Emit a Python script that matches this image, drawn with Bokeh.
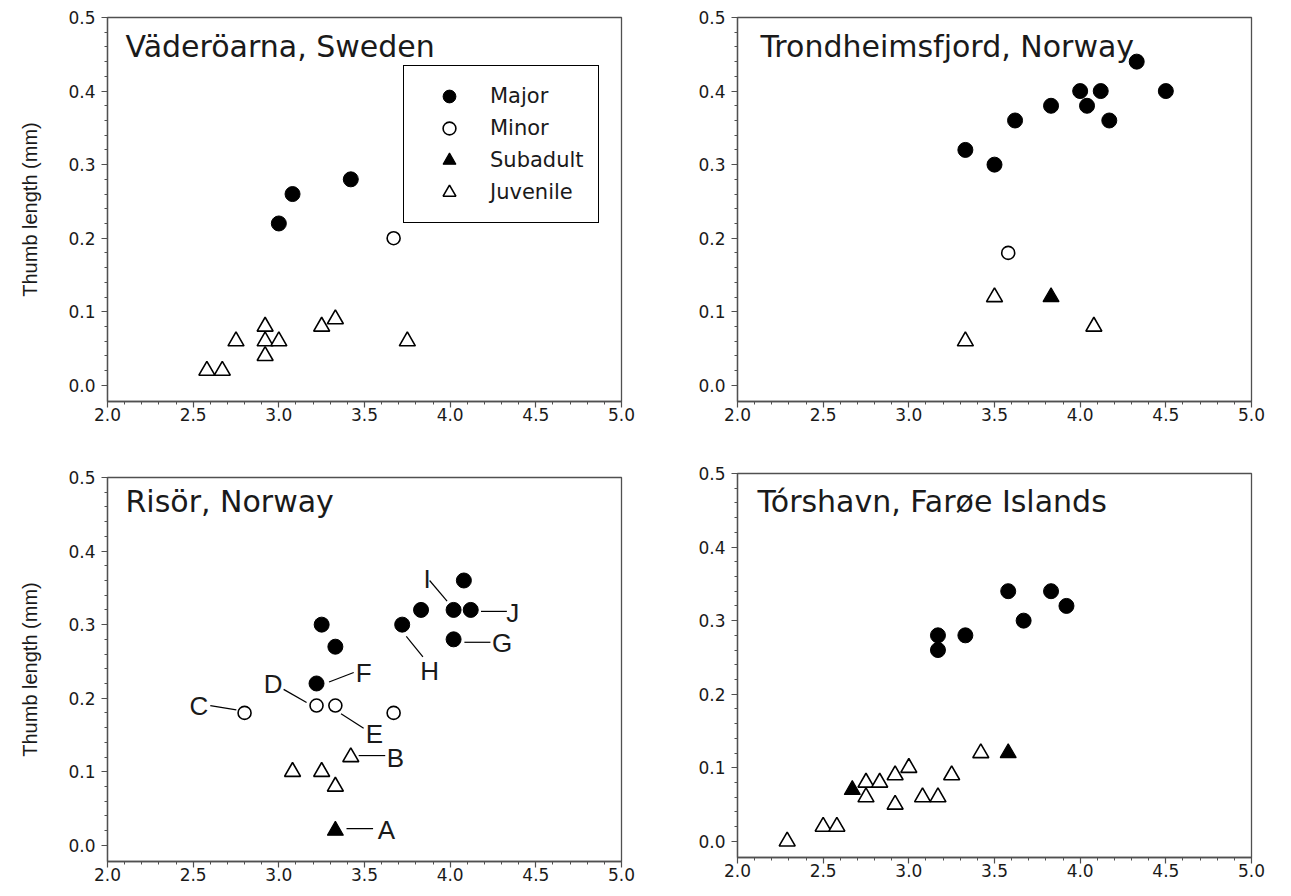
from bokeh.plotting import figure
from bokeh.layouts import row, column
from bokeh.models import FixedTicker, PrintfTickFormatter, Range1d, Legend, LegendItem, Label
from bokeh.core.properties import value
from bokeh.embed import file_html
from bokeh.resources import INLINE

# ---------------- data (x = age in years, y = thumb length in mm) ----------------
# Väderöarna, Sweden
vad_major_x = [3.00, 3.08, 3.42]
vad_major_y = [0.22, 0.26, 0.28]
vad_minor_x = [3.67]
vad_minor_y = [0.20]
vad_sub_x = []
vad_sub_y = []
vad_juv_x = [2.58, 2.67, 2.75, 2.92, 2.92, 2.92, 3.00, 3.25, 3.33, 3.75]
vad_juv_y = [0.02, 0.02, 0.06, 0.08, 0.06, 0.04, 0.06, 0.08, 0.09, 0.06]

# Trondheimsfjord, Norway
tro_major_x = [3.33, 3.50, 3.62, 3.83, 4.00, 4.04, 4.12, 4.17, 4.33, 4.50]
tro_major_y = [0.32, 0.30, 0.36, 0.38, 0.40, 0.38, 0.40, 0.36, 0.44, 0.40]
tro_minor_x = [3.58]
tro_minor_y = [0.18]
tro_sub_x = [3.83]
tro_sub_y = [0.12]
tro_juv_x = [3.33, 3.50, 4.08]
tro_juv_y = [0.06, 0.12, 0.08]

# Risör, Norway
ris_major_x = [3.25, 3.33, 3.22, 3.72, 3.83, 4.02, 4.08, 4.12, 4.02]
ris_major_y = [0.30, 0.27, 0.22, 0.30, 0.32, 0.32, 0.36, 0.32, 0.28]
ris_minor_x = [2.80, 3.22, 3.33, 3.67]
ris_minor_y = [0.18, 0.19, 0.19, 0.18]
ris_sub_x = [3.33]
ris_sub_y = [0.02]
ris_juv_x = [3.08, 3.25, 3.33, 3.42]
ris_juv_y = [0.10, 0.10, 0.08, 0.12]

# Risör individual labels (text positions and leader lines)
ris_letters = ["A", "B", "C", "D", "E", "F", "G", "H", "I", "J"]
ris_letter_x = [3.628, 3.680, 2.533, 2.967, 3.558, 3.495, 4.303, 3.880, 3.865, 4.365]
ris_letter_y = [0.021, 0.119, 0.190, 0.219, 0.152, 0.234, 0.275, 0.237, 0.362, 0.316]
ris_lead_x0 = [3.395, 3.466, 2.600, 3.028, 3.363, 3.293, 4.083, 3.744, 3.880, 4.180]
ris_lead_y0 = [0.0227, 0.122, 0.190, 0.212, 0.179, 0.222, 0.276, 0.284, 0.360, 0.318]
ris_lead_x1 = [3.550, 3.621, 2.752, 3.162, 3.495, 3.437, 4.235, 3.841, 3.982, 4.331]
ris_lead_y1 = [0.0227, 0.122, 0.184, 0.194, 0.159, 0.235, 0.276, 0.256, 0.332, 0.318]

# Tórshavn, Farøe Islands
tor_major_x = [3.58, 3.83, 3.92, 3.67, 3.33, 3.17, 3.17]
tor_major_y = [0.34, 0.34, 0.32, 0.30, 0.28, 0.28, 0.26]
tor_minor_x = []
tor_minor_y = []
tor_sub_x = [2.67, 3.58]
tor_sub_y = [0.07, 0.12]
tor_juv_x = [2.29, 2.50, 2.58, 2.75, 2.75, 2.83, 2.92, 2.92, 3.00, 3.08, 3.17, 3.25, 3.42]
tor_juv_y = [0.00, 0.02, 0.02, 0.08, 0.06, 0.08, 0.09, 0.05, 0.10, 0.06, 0.06, 0.09, 0.12]

categories = ["Major", "Minor", "Subadult", "Juvenile"]
titles = ["Väderöarna, Sweden", "Trondheimsfjord, Norway", "Risör, Norway", "Tórshavn, Farøe Islands"]
title_x = [2.105, 2.134, 2.105, 2.117]
title_y = [0.460, 0.460, 0.4675, 0.4626]
y_label = "Thumb length (mm)"
x_major_ticks = [2.0, 2.5, 3.0, 3.5, 4.0, 4.5, 5.0]
y_major_ticks = [0.0, 0.1, 0.2, 0.3, 0.4, 0.5]

# ---------------- styling ----------------
AX = "#505050"
TXT = "#1a1a1a"
FONT = "DejaVu Sans"

STYLES = [
    dict(marker="circle", size=15, fill_color="black", line_color="black", line_width=1),
    dict(marker="circle", size=13, fill_color="white", line_color="black", line_width=1.6),
    dict(marker="triangle", size=16, fill_color="black", line_color="black", line_width=1.2),
    dict(marker="triangle", size=16, fill_color="white", line_color="black", line_width=1.6),
]


def make_panel(idx, data, ml, mr, mt, mb, with_ylabel):
    fw, fh = 514, 384
    p = figure(width=ml + fw + mr, height=mt + fh + mb,
               x_range=Range1d(2.0, 5.0), y_range=Range1d(-0.022, 0.5),
               output_backend="svg", toolbar_location=None,
               min_border_left=ml, min_border_right=mr,
               min_border_top=mt, min_border_bottom=mb)
    p.xgrid.visible = False
    p.ygrid.visible = False
    p.background_fill_color = "white"
    p.border_fill_color = "white"
    p.outline_line_color = AX
    p.outline_line_width = 1.3
    p.outline_line_alpha = 1.0

    x_minor = [round(2.0 + 0.1 * i, 2) for i in range(31)]
    y_minor = [round(0.02 * i, 2) for i in range(26)]
    p.xaxis.ticker = FixedTicker(ticks=x_major_ticks, minor_ticks=x_minor)
    p.yaxis.ticker = FixedTicker(ticks=y_major_ticks, minor_ticks=y_minor)
    for ax in (p.xaxis[0], p.yaxis[0]):
        ax.formatter = PrintfTickFormatter(format="%.1f")
        ax.axis_line_color = AX
        ax.axis_line_width = 1.3
        ax.major_tick_line_color = AX
        ax.minor_tick_line_color = AX
        ax.major_tick_line_width = 1.2
        ax.minor_tick_line_width = 1.0
        ax.major_tick_in = 0
        ax.major_tick_out = 6
        ax.minor_tick_in = 0
        ax.minor_tick_out = 3
        ax.major_label_text_font = FONT
        ax.major_label_text_font_size = "17px"
        ax.major_label_text_color = TXT
    p.xaxis.major_label_standoff = 0
    p.yaxis.major_label_standoff = 6

    if with_ylabel:
        p.yaxis.axis_label = y_label
        p.yaxis.axis_label_text_font = "Liberation Sans"
        p.yaxis.axis_label_text_font_style = "normal"
        p.yaxis.axis_label_text_font_size = "20px"
        p.yaxis.axis_label_text_color = TXT
        p.yaxis.axis_label_standoff = 24

    renderers = []
    for (xs, ys), st in zip(data, STYLES):
        renderers.append(p.scatter(xs, ys, **st))

    p.add_layout(Label(x=title_x[idx], y=title_y[idx], text=titles[idx],
                       text_font=FONT, text_font_size="30px", text_color=TXT,
                       text_baseline="alphabetic", text_align="left"))
    return p, renderers


p1, rs1 = make_panel(0, [(vad_major_x, vad_major_y), (vad_minor_x, vad_minor_y),
                         (vad_sub_x, vad_sub_y), (vad_juv_x, vad_juv_y)],
                     107, 30, 17, 40, True)
p2, _ = make_panel(1, [(tro_major_x, tro_major_y), (tro_minor_x, tro_minor_y),
                       (tro_sub_x, tro_sub_y), (tro_juv_x, tro_juv_y)],
                   86, 30, 17, 40, False)
p3, _ = make_panel(2, [(ris_major_x, ris_major_y), (ris_minor_x, ris_minor_y),
                       (ris_sub_x, ris_sub_y), (ris_juv_x, ris_juv_y)],
                   107, 30, 36, 33, True)
p4, _ = make_panel(3, [(tor_major_x, tor_major_y), (tor_minor_x, tor_minor_y),
                       (tor_sub_x, tor_sub_y), (tor_juv_x, tor_juv_y)],
                   86, 30, 32, 37, False)

# legend in first panel; the Subadult entry uses a proxy renderer (no visible point)
legend_proxies = [p1.scatter([float("nan")], [float("nan")], **st) for st in STYLES]
legend = Legend(items=[LegendItem(label=c, renderers=[r]) for c, r in zip(categories, legend_proxies)],
                location=(296, 178), orientation="vertical",
                glyph_width=62, glyph_height=32, label_height=32, label_standoff=10,
                spacing=0, padding=14, margin=0,
                border_line_color="black", border_line_width=1, border_line_alpha=1,
                background_fill_color="white", background_fill_alpha=1,
                label_text_font=FONT, label_text_font_size="21px", label_text_color=TXT)
p1.add_layout(legend)

# letter labels in Risör panel
p3.segment(x0=ris_lead_x0, y0=ris_lead_y0, x1=ris_lead_x1, y1=ris_lead_y1,
           line_color="black", line_width=1.2)
p3.text(x=ris_letter_x, y=ris_letter_y, text=ris_letters,
        text_font=value("Liberation Sans"), text_font_size=value("26px"),
        text_color=TXT, text_align="center", text_baseline="alphabetic")

layout = row(column(p1, p3), column(p2, p4))
open("out.html", "w").write(file_html(layout, INLINE))
